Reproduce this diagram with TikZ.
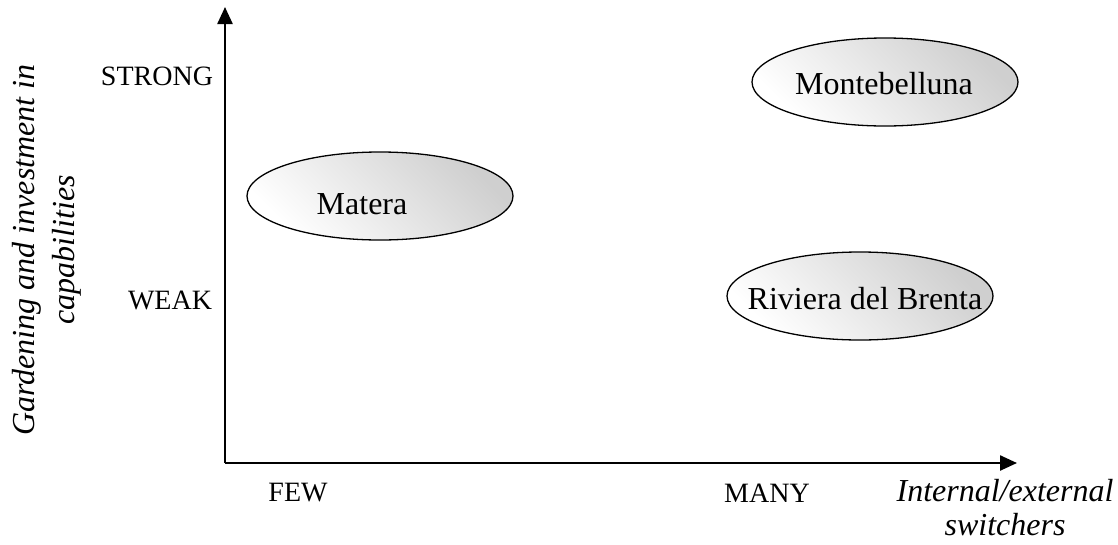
\documentclass[tikz,border=0pt]{standalone}
\usepackage{fontspec}
\setmainfont{Liberation Serif}
\usetikzlibrary{arrows.meta,shapes.geometric}
\tikzset{
  axis/.style={line width=2.4pt,-{Triangle[length=17pt,width=15pt]}},
  blob/.style={ellipse,draw,line width=1.3pt,minimum width=266pt,minimum height=88pt,
    inner sep=0pt,shading=axis,top color=gray!38,bottom color=white,shading angle=-45},
  blobtext/.style={font=\fontsize{32}{38}\selectfont},
  tick/.style={font=\fontsize{28}{34}\selectfont},
  axlabel/.style={font=\fontsize{32}{38}\selectfont\itshape,align=center}
}
\begin{document}
\begin{tikzpicture}[x=1pt,y=-1pt]
\useasboundingbox (0,0) rectangle (1118,544);
\coordinate (O) at (225,463);
\coordinate (ytop) at (225,7);
\coordinate (xend) at (1017,463);
\draw[axis] (O) -- (ytop);
\draw[axis] (O) -- (xend);
\node[blob] (monte) at (885,82) {};
\node[blobtext] (montet) at (884,84) {Montebelluna};
\node[blob] (matera) at (380,196) {};
\node[blobtext] (matet) at (362,204) {Matera};
\node[blob] (riviera) at (860,296) {};
\node[blobtext] (rivt) at (865,299) {Riviera del Brenta};
\node[tick] (strong) at (157,76) {STRONG};
\node[tick] (weak) at (170,300) {WEAK};
\node[tick] (few) at (298,493) {FEW};
\node[tick] (many) at (767,493) {MANY};
\node[axlabel,rotate=90,font=\fontsize{32}{40}\selectfont\itshape] (ylab) at (47,250) {Gardening and investment in\\capabilities};
\node[axlabel,font=\fontsize{32}{34}\selectfont\itshape] (xlab) at (1005,508) {Internal/external\\switchers};
\end{tikzpicture}
\end{document}
